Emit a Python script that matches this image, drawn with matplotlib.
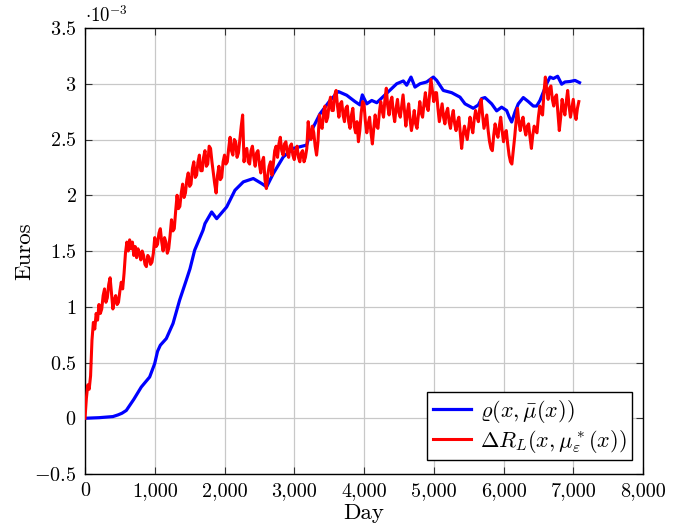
import matplotlib
matplotlib.use('Agg')
import matplotlib.pyplot as plt
import numpy as np
from matplotlib.ticker import FuncFormatter

# fonts, LaTeX / pgfplots look
plt.rcParams['font.family'] = 'serif'
plt.rcParams['font.serif'] = ['cmr10', 'DejaVu Serif']
plt.rcParams['mathtext.fontset'] = 'cm'
plt.rcParams['axes.unicode_minus'] = False

# data (values in units of 1e-3 euros)
blue_days = [0, 200, 400, 473, 530, 592, 700, 807, 927, 999, 1040, 1080, 1166, 1262,
             1357, 1453, 1505, 1572, 1692, 1720, 1816, 1888, 2031, 2150, 2270, 2413,
             2533, 2604, 2700, 2843, 2986, 3178, 3226, 3369, 3513, 3632, 3752, 3871,
             3943, 3976, 4039, 4111, 4183, 4301, 4397, 4469, 4564, 4612, 4674, 4731,
             4803, 4899, 4994, 5042, 5137, 5257, 5376, 5448, 5567, 5639, 5686, 5734,
             5830, 5902, 5973, 6045, 6083, 6117, 6165, 6212, 6284, 6356, 6427, 6475,
             6523, 6619, 6667, 6715, 6776, 6834, 6882, 6953, 7025, 7090]
blue_vals = [0.0, 0.005, 0.015, 0.03, 0.045, 0.07, 0.17, 0.28, 0.37, 0.49, 0.6, 0.655,
             0.715, 0.85, 1.06, 1.24, 1.34, 1.507, 1.686, 1.746, 1.85, 1.79, 1.895,
             2.045, 2.12, 2.15, 2.105, 2.075, 2.195, 2.344, 2.42, 2.45, 2.553, 2.73,
             2.85, 2.93, 2.897, 2.84, 2.81, 2.9, 2.82, 2.85, 2.83, 2.9, 2.957, 3.0,
             3.025, 2.987, 3.06, 2.97, 3.0, 3.016, 3.06, 3.03, 2.94, 2.92, 2.88, 2.82,
             2.78, 2.81, 2.867, 2.876, 2.82, 2.757, 2.79, 2.76, 2.70, 2.657, 2.747,
             2.82, 2.876, 2.84, 2.80, 2.8, 2.85, 3.0, 3.06, 3.047, 3.067, 2.996, 3.016,
             3.02, 3.03, 3.01]

# red series sampled every 20 days (one row = 200 days)
red_step = 20
red_vals = [
    0.00, 0.18, 0.30, 0.26, 0.38, 0.70, 0.86, 0.80, 0.94, 0.88,
    1.02, 0.94, 0.98, 1.10, 1.16, 1.04, 1.08, 1.20, 1.26, 1.12,
    0.98, 1.06, 1.10, 1.02, 1.04, 1.14, 1.22, 1.16, 1.30, 1.48,
    1.58, 1.50, 1.60, 1.52, 1.58, 1.46, 1.54, 1.44, 1.52, 1.48,
    1.42, 1.50, 1.46, 1.38, 1.36, 1.46, 1.44, 1.38, 1.40, 1.48,
    1.62, 1.54, 1.56, 1.66, 1.70, 1.58, 1.50, 1.62, 1.58, 1.48,
    1.52, 1.64, 1.78, 1.68, 1.70, 1.86, 2.00, 1.88, 1.90, 2.02,
    2.10, 1.98, 2.02, 2.14, 2.20, 2.08, 2.10, 2.24, 2.30, 2.16,
    2.18, 2.30, 2.36, 2.22, 2.22, 2.34, 2.40, 2.26, 2.28, 2.44,
    2.42, 2.30, 2.20, 2.10, 2.02, 2.18, 2.26, 2.14, 2.16, 2.30,
    2.36, 2.28, 2.30, 2.42, 2.52, 2.40, 2.36, 2.50, 2.48, 2.34,
    2.38, 2.50, 2.62, 2.72, 2.30, 2.40, 2.42, 2.30, 2.28, 2.40,
    2.44, 2.34, 2.26, 2.38, 2.40, 2.28, 2.20, 2.30, 2.34, 2.14,
    2.06, 2.18, 2.26, 2.30, 2.18, 2.28, 2.40, 2.44, 2.34, 2.46,
    2.52, 2.40, 2.36, 2.46, 2.48, 2.38, 2.34, 2.44, 2.46, 2.36,
    2.32, 2.40, 2.44, 2.34, 2.30, 2.38, 2.40, 2.30, 2.34, 2.42,
    2.66, 2.54, 2.50, 2.62, 2.56, 2.44, 2.36, 2.48, 2.72, 2.62,
    2.60, 2.74, 2.80, 2.66, 2.70, 2.82, 2.88, 2.76, 2.76, 2.90,
    2.94, 2.80, 2.70, 2.82, 2.84, 2.72, 2.66, 2.78, 2.80, 2.66,
    2.60, 2.72, 2.78, 2.62, 2.56, 2.66, 2.48, 2.58, 2.74, 2.84,
    2.82, 2.66, 2.56, 2.64, 2.70, 2.56, 2.46, 2.60, 2.72, 2.62,
    2.60, 2.74, 2.84, 2.76, 2.70, 2.86, 2.96, 2.80, 2.72, 2.84,
    2.88, 2.74, 2.66, 2.78, 2.86, 2.74, 2.70, 2.80, 2.90, 2.76,
    2.62, 2.74, 2.82, 2.68, 2.58, 2.66, 2.76, 2.64, 2.60, 2.72,
    2.84, 2.74, 2.70, 2.82, 2.92, 2.80, 2.76, 2.90, 3.04, 2.94,
    2.84, 2.92, 2.92, 2.78, 2.66, 2.74, 2.82, 2.70, 2.64, 2.74,
    2.78, 2.66, 2.60, 2.70, 2.76, 2.64, 2.58, 2.66, 2.70, 2.56,
    2.42, 2.54, 2.62, 2.56, 2.50, 2.60, 2.70, 2.62, 2.56, 2.68,
    2.76, 2.70, 2.66, 2.78, 2.86, 2.72, 2.60, 2.66, 2.72, 2.58,
    2.48, 2.42, 2.40, 2.54, 2.64, 2.56, 2.52, 2.62, 2.70, 2.58,
    2.48, 2.56, 2.58, 2.46, 2.36, 2.30, 2.28, 2.40, 2.52, 2.66,
    2.78, 2.66, 2.58, 2.66, 2.70, 2.60, 2.54, 2.62, 2.64, 2.52,
    2.42, 2.54, 2.62, 2.58, 2.56, 2.70, 2.80, 2.74, 2.72, 2.92,
    3.06, 2.94, 2.86, 2.96, 2.98, 2.86, 2.80, 2.88, 2.90, 2.74,
    2.58, 2.70, 2.86, 2.78, 2.72, 2.84, 2.94, 2.80, 2.70, 2.78,
    2.86, 2.74, 2.68, 2.78, 2.84,
]
red_days = np.arange(len(red_vals)) * red_step

x_ticks = [0, 1000, 2000, 3000, 4000, 5000, 6000, 7000, 8000]
y_ticks = [-0.5, 0, 0.5, 1, 1.5, 2, 2.5, 3, 3.5]

fig = plt.figure(figsize=(6.88, 5.28), dpi=100)
ax = fig.add_axes([85 / 688, 54 / 528, 558 / 688, 446 / 528])

ax.plot(blue_days, blue_vals, color=(0, 0, 1), lw=2.3,
        label=r'$\varrho(x,\bar{\mu}(x))$', zorder=3)
ax.plot(red_days, red_vals, color=(1, 0, 0), lw=2.2,
        label=r'$\Delta R_L(x,\mu^*_\varepsilon(x))$', zorder=4)

ax.set_xlim(0, 8000)
ax.set_ylim(-0.5, 3.5)
ax.set_xticks(x_ticks)
ax.set_yticks(y_ticks)
ax.xaxis.set_major_formatter(FuncFormatter(lambda v, p: f'{v:,.0f}'))
ax.yaxis.set_major_formatter(FuncFormatter(lambda v, p: f'${v:g}$'))

ax.grid(True, color='#c8c8c8', lw=0.9)
ax.set_axisbelow(True)
ax.tick_params(direction='in', top=True, right=True, length=5, width=0.8,
               labelsize=14.5, pad=6, colors='#333333', labelcolor='black')
for s in ax.spines.values():
    s.set_linewidth(1.0)

ax.set_xlabel('Day', fontsize=16.5, labelpad=2)
ax.set_ylabel('Euros', fontsize=16.5, labelpad=0)
ax.text(0, 1.004, r'$\cdot 10^{-3}$', transform=ax.transAxes,
        ha='left', va='bottom', fontsize=13.5)

leg = ax.legend(loc='lower right', bbox_to_anchor=(0.980, 0.031), borderaxespad=0,
                fontsize=16, frameon=True, fancybox=False, edgecolor='black',
                framealpha=1, handlelength=1.7, handletextpad=0.4,
                borderpad=0.25, labelspacing=0.15)
leg.get_frame().set_linewidth(1.0)

fig.savefig('out.png', dpi=100)
